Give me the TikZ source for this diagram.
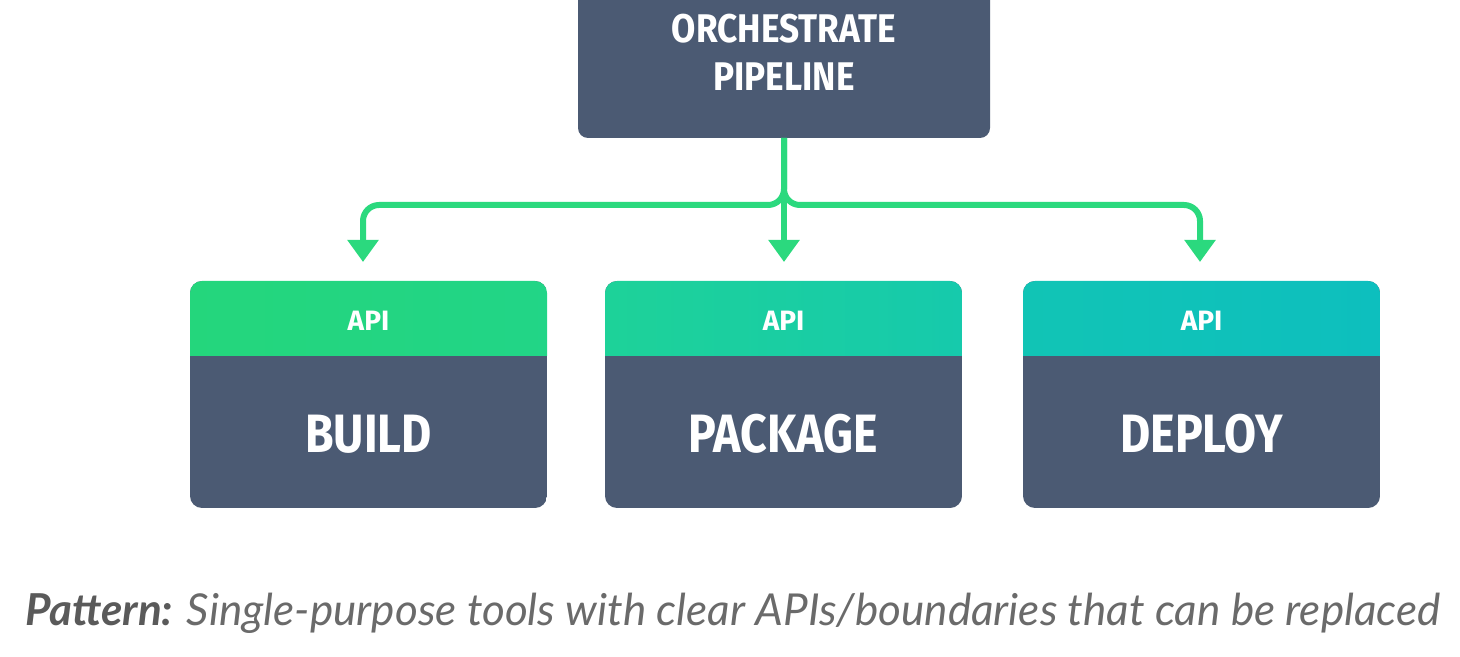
\documentclass[tikz,border=0pt]{standalone}
\usepackage{fontspec}
\setmainfont{Fira Sans}
\newfontfamily\capt{Lato}
\newfontfamily\heavy{Fira Sans Black}
\usetikzlibrary{arrows.meta}
\definecolor{dark}{HTML}{4B5A73}
\definecolor{gA}{HTML}{24D67C}
\definecolor{gB}{HTML}{1CD1A0}
\definecolor{gC}{HTML}{0DBFBE}
\definecolor{link}{HTML}{2BD97E}
\definecolor{cap}{HTML}{6A6A6A}
\begin{document}
\begin{tikzpicture}[x=0.5pt,y=-0.5pt,
  lbl/.style={text=white,font=\bfseries\fontsize{27}{30}\selectfont,xscale=0.86},
  api/.style={text=white,font=\bfseries\fontsize{14}{16}\selectfont},
  conn/.style={link,line width=3pt,rounded corners=8pt,-{Triangle[width=15pt,length=11pt]}}]
\useasboundingbox (0,0) rectangle (1460,657);
\fill[dark,rounded corners=5pt] (578,-20) rectangle (990,138);
\node[text=white,font=\bfseries\fontsize{20}{24}\selectfont,align=center,xscale=0.88] (top) at (784,52) {ORCHESTRATE\\PIPELINE};
\coordinate (ts) at (784,138);
\foreach \n/\x/\l/\cl/\cr in {b/190/BUILD/gA/gA!70!gB, p/605/PACKAGE/gB!80!gA/gB!60!gC, d/1023/DEPLOY/gC!70!gB/gC}{
  \begin{scope}
  \clip[rounded corners=6pt] (\x,281) rectangle (\x+357,508);
  \fill[dark] (\x,281) rectangle (\x+357,508);
  \shade[left color=\cl,right color=\cr] (\x,281) rectangle (\x+357,356);
  \end{scope}
  \node[api] (\n api) at (\x+178.5,321) {API};
  \node[lbl] (\n) at (\x+178.5,434) {\l};
  \coordinate (\n t) at (\x+178.5,262);
}
\draw[conn] (ts) |- (363,205) -- (363,262);
\draw[conn] (ts) |- (1200,205) -- (1200,262);
\draw[conn] (ts) -- (784,262);
\node[anchor=west,text=cap,font=\capt\itshape\fontsize{22}{26}\selectfont] (cap) at (18,613)
 {{\bfseries\color{cap!85!black}Pattern:} Single-purpose tools with clear APIs/boundaries that can be replaced};
\end{tikzpicture}
\end{document}
